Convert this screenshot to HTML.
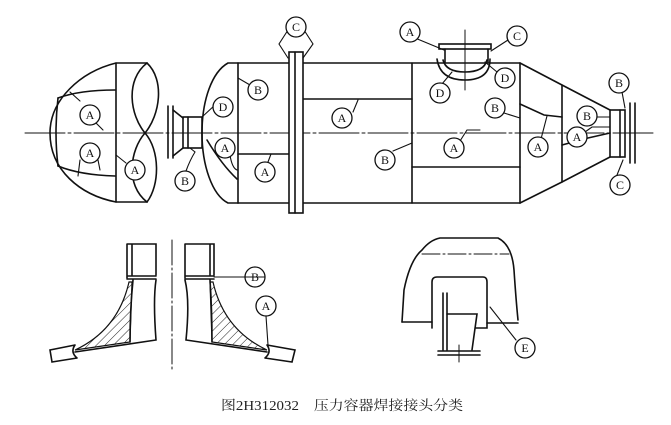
<!DOCTYPE html>
<html><head><meta charset="utf-8"><style>
html,body{margin:0;padding:0;background:#fff;}
svg{display:block}
text{font-family:"Liberation Serif","Noto Serif CJK SC",serif;}
</style></head><body>
<svg width="671" height="425" viewBox="0 0 671 425" xmlns="http://www.w3.org/2000/svg">
<defs>
<pattern id="h" width="6" height="6" patternUnits="userSpaceOnUse" patternTransform="rotate(45)">
<line x1="0" y1="0" x2="0" y2="6" stroke="#222" stroke-width="1"/>
</pattern>
</defs>
<g fill="none" stroke="#111" stroke-width="1.6" stroke-linecap="round">
<!-- centerline -->
<line x1="25" y1="133" x2="655" y2="133" stroke-width="1" stroke-dasharray="40,3,3,3"/>
<!-- left head -->
<path d="M147,63 L116,63 C80,72 50,100 50,133 C50,170 80,195 116,202 L147,202"/>
<line x1="116" y1="63" x2="116" y2="202"/>
<path d="M58,98 Q80,90 115,90"/>
<path d="M58,166 Q80,175 115,176"/>
<path d="M58,98 Q54,133 58,166"/>
<path d="M147,63 C125,80 130,115 145,133 C160,150 160,185 147,202"/>
<path d="M147,63 C165,80 160,115 145,133 C130,150 125,185 147,202"/>
<!-- left nozzle -->
<line x1="168" y1="106" x2="168" y2="158"/>
<line x1="173" y1="106" x2="173" y2="158"/>
<path d="M173,110 L183,118 M173,156 L183,148"/>
<rect x="183" y="117" width="19" height="31"/>
<line x1="188" y1="117" x2="188" y2="148"/>
<!-- main head -->
<path d="M238,63 L228,63 C212,72 202,100 202,133 C202,165 212,195 228,203 L238,203"/>
<path d="M207,140 Q222,165 237,179"/>
<!-- main shell -->
<line x1="238" y1="63" x2="520" y2="63"/>
<line x1="238" y1="203" x2="520" y2="203"/>
<line x1="238" y1="63" x2="238" y2="203"/>
<line x1="412" y1="63" x2="412" y2="203"/>
<line x1="520" y1="63" x2="520" y2="203"/>
<line x1="303" y1="99" x2="412" y2="99"/>
<line x1="238" y1="154" x2="289" y2="154"/>
<line x1="412" y1="167" x2="520" y2="167"/>
<!-- flange C -->
<rect x="289" y="52" width="14" height="161" fill="#fff"/>
<line x1="295" y1="52" x2="295" y2="213"/>
<!-- top nozzle -->
<rect x="439" y="44" width="52" height="5"/>
<line x1="445" y1="49" x2="445" y2="62"/>
<line x1="488" y1="49" x2="488" y2="62"/>
<path d="M437,59 Q440,80 465,80 Q490,80 490,59"/>
<path d="M443,60 Q446,72 465,72 Q484,72 487,60"/>
<line x1="465" y1="30" x2="465" y2="90" stroke-width="1"/>
<!-- cone -->
<path d="M520,63 L562,85 L610,110 M520,203 L562,182 L610,157"/>
<line x1="562" y1="85" x2="562" y2="182"/>
<path d="M520,104 L544,115 L562,117 M562,145 L588,138 L610,133"/>
<rect x="610" y="110" width="15" height="47"/>
<line x1="620" y1="110" x2="620" y2="157"/>
<line x1="630" y1="103" x2="630" y2="163"/>
<line x1="635" y1="103" x2="635" y2="163"/>
<!-- leaders -->
<g stroke-width="1.1">
<path d="M80,101 L70,92 M96,123 L103,130 M80,160 L78,176 M98,160 L100,170 M126,163 L116,155"/>
<path d="M186,171 Q190,160 195,152 L190,148"/>
<path d="M215,105 L202,117"/>
<path d="M230,155 Q232,168 237,170"/>
<path d="M250,85 L238,78"/>
<path d="M268,162 L271,154"/>
<path d="M288,30 L279,44 L288,58 M304,30 L313,44 L303,58"/>
<path d="M353,112 L358,100"/>
<path d="M393,151 L412,143"/>
<path d="M415,38 L444,50"/>
<path d="M508,40 L491,51"/>
<path d="M442,84 L452,72"/>
<path d="M497,72 L485,62"/>
<path d="M460,141 L467,130 L480,130"/>
<path d="M504,113 L520,118"/>
<path d="M541,139 L547,116"/>
<path d="M597,117 L610,117"/>
<path d="M585,132 L592,127 L610,127"/>
<path d="M622,92 L625,108"/>
<path d="M617,175 L623,160"/>
</g>
<!-- label circles -->
<g fill="#fff" stroke-width="1.3">
<circle cx="90" cy="115" r="10"/><circle cx="90" cy="153" r="10"/><circle cx="135" cy="170" r="10"/>
<circle cx="185" cy="181" r="10"/><circle cx="223" cy="107" r="10"/><circle cx="225" cy="148" r="10"/>
<circle cx="258" cy="90" r="10"/><circle cx="265" cy="172" r="10"/><circle cx="296" cy="27" r="10"/>
<circle cx="410" cy="32" r="10"/><circle cx="517" cy="36" r="10"/><circle cx="440" cy="93" r="10"/>
<circle cx="505" cy="78" r="10"/><circle cx="342" cy="118" r="10"/><circle cx="385" cy="160" r="10"/>
<circle cx="454" cy="148" r="10"/><circle cx="495" cy="108" r="10"/><circle cx="538" cy="147" r="10"/>
<circle cx="587" cy="116" r="10"/><circle cx="577" cy="137" r="10"/><circle cx="619" cy="83" r="10"/>
<circle cx="620" cy="185" r="10"/>
<circle cx="255" cy="277" r="10"/><circle cx="266" cy="306" r="10"/><circle cx="525" cy="348" r="10"/>
</g>
<!-- bottom left -->
<line x1="172" y1="240" x2="172" y2="370" stroke-width="1" stroke-dasharray="25,3,2,3"/>
<path d="M129,282 Q118,330 75,350 L130,342 L132,282 Z" fill="url(#h)" stroke-width="1.2"/>
<path d="M213,282 Q224,330 267,350 L212,342 L210,282 Z" fill="url(#h)" stroke-width="1.2"/>
<path d="M127,244 L156,244 L156,275 M127,244 L127,278 M132,244 L132,275 M127,276 L156,276 M127,279 L156,279"/>
<path d="M133,280 Q130,310 130,342 M156,280 Q153,300 156,340 L75,352"/>
<path d="M75,345 L50,350 L52,362 L77,358 M75,345 Q70,352 77,358"/>
<path d="M185,244 L214,244 L214,275 M185,244 L185,278 M210,244 L210,275 M185,276 L214,276 M185,279 L214,279"/>
<path d="M185,280 Q190,300 186,340 L267,352 M210,280 Q212,310 212,342"/>
<path d="M267,345 L295,350 L292,362 L265,358 M267,345 Q272,352 265,358"/>
<path d="M265,277 L214,277 M266,316 L268,345" stroke-width="1.1"/>
<!-- bottom right -->
<path d="M402,322 L404,290 Q410,260 422,250 Q430,240 440,238 L498,238 Q512,245 514,270 Q516,300 518,320"/>
<line x1="422" y1="254" x2="509" y2="254" stroke-width="1" stroke-dasharray="18,3,2,3"/>
<line x1="402" y1="322" x2="432" y2="322"/>
<line x1="487" y1="323" x2="518" y2="323"/>
<path d="M432,328 L432,282 Q432,277 437,277 L483,277 Q487,277 487,282 L487,328 L476,328"/>
<line x1="443" y1="293" x2="443" y2="350"/>
<line x1="447" y1="293" x2="447" y2="350"/>
<path d="M447,314 L477,314 L472,350"/>
<line x1="438" y1="351" x2="480" y2="351"/>
<line x1="438" y1="355" x2="480" y2="355"/>
<line x1="459" y1="345" x2="459" y2="362" stroke-width="1"/>
<path d="M490,307 L516,340" stroke-width="1.1"/>
</g>
<g font-size="12" text-anchor="middle" fill="#111">
<text x="90" y="119">A</text><text x="90" y="157">A</text><text x="135" y="174">A</text>
<text x="185" y="185">B</text><text x="223" y="111">D</text><text x="225" y="152">A</text>
<text x="258" y="94">B</text><text x="265" y="176">A</text><text x="296" y="31">C</text>
<text x="410" y="36">A</text><text x="517" y="40">C</text><text x="440" y="97">D</text>
<text x="505" y="82">D</text><text x="342" y="122">A</text><text x="385" y="164">B</text>
<text x="454" y="152">A</text><text x="495" y="112">B</text><text x="538" y="151">A</text>
<text x="587" y="120">B</text><text x="577" y="141">A</text><text x="619" y="87">B</text>
<text x="620" y="189">C</text>
<text x="255" y="281">B</text><text x="266" y="310">A</text><text x="525" y="352">E</text>
</g>
<text x="221" y="410" font-size="13.5" fill="#222" textLength="242" lengthAdjust="spacingAndGlyphs">图2H312032　压力容器焊接接头分类</text>
</svg>
</body></html>
